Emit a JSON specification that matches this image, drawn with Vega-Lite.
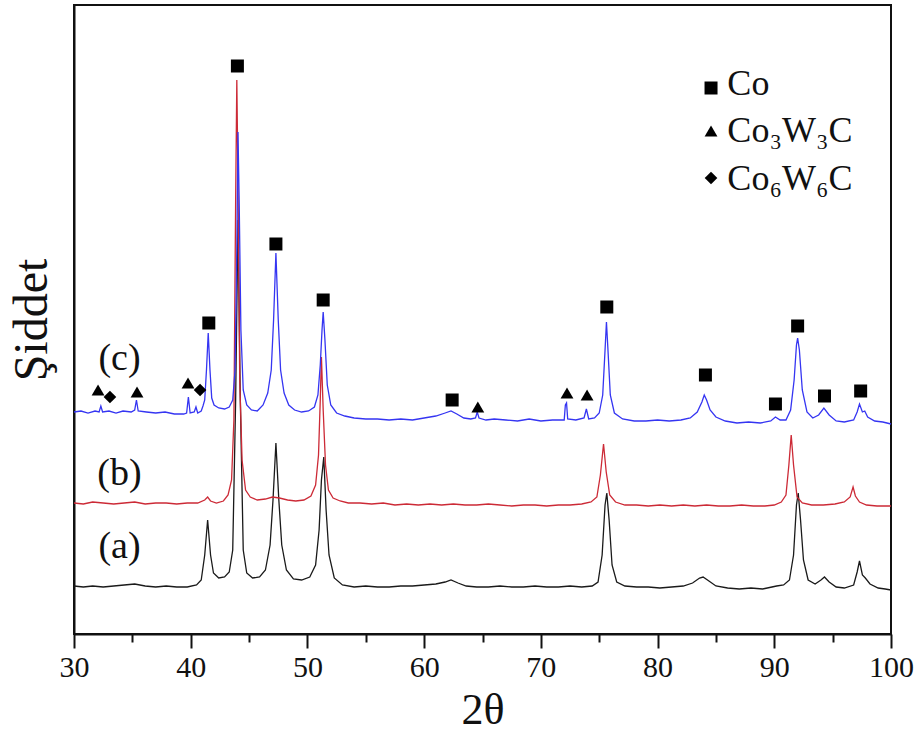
{
  "$schema": "https://vega.github.io/schema/vega-lite/v6.json",
  "width": 817,
  "height": 629,
  "autosize": {"type": "none"},
  "padding": {"left": 74, "top": 5, "right": 30, "bottom": 108},
  "background": "white",
  "config": {
    "font": "Liberation Serif",
    "view": {"stroke": "#111", "strokeWidth": 2},
    "axis": {"grid": false, "labelColor": "#111", "titleColor": "#111", "domainColor": "#111", "tickColor": "#111"}
  },
  "datasets": {
    "curves": [
      {"s":"a","x":30.0,"y":48},{"s":"a","x":30.8,"y":47},{"s":"a","x":31.6,"y":48},{"s":"a","x":32.5,"y":47},{"s":"a","x":33.4,"y":48},{"s":"a","x":34.3,"y":49},{"s":"a","x":35.2,"y":50},{"s":"a","x":36.1,"y":48},{"s":"a","x":37.0,"y":47},{"s":"a","x":37.9,"y":48},{"s":"a","x":38.8,"y":47},{"s":"a","x":39.7,"y":47},{"s":"a","x":40.5,"y":49},{"s":"a","x":40.9,"y":54},{"s":"a","x":41.2,"y":79},{"s":"a","x":41.45,"y":114},{"s":"a","x":41.7,"y":79},{"s":"a","x":41.95,"y":61},{"s":"a","x":42.4,"y":56},{"s":"a","x":42.9,"y":57},{"s":"a","x":43.3,"y":62},{"s":"a","x":43.6,"y":84},{"s":"a","x":43.85,"y":234},{"s":"a","x":44.05,"y":414},{"s":"a","x":44.25,"y":234},{"s":"a","x":44.5,"y":84},{"s":"a","x":44.8,"y":61},{"s":"a","x":45.3,"y":56},{"s":"a","x":45.9,"y":57},{"s":"a","x":46.4,"y":64},{"s":"a","x":46.8,"y":89},{"s":"a","x":47.05,"y":134},{"s":"a","x":47.3,"y":191},{"s":"a","x":47.55,"y":134},{"s":"a","x":47.8,"y":89},{"s":"a","x":48.2,"y":64},{"s":"a","x":48.8,"y":55},{"s":"a","x":49.5,"y":54},{"s":"a","x":50.2,"y":57},{"s":"a","x":50.7,"y":69},{"s":"a","x":51.0,"y":104},{"s":"a","x":51.2,"y":154},{"s":"a","x":51.4,"y":177},{"s":"a","x":51.6,"y":124},{"s":"a","x":51.85,"y":79},{"s":"a","x":52.3,"y":56},{"s":"a","x":53.0,"y":49},{"s":"a","x":54.0,"y":47},{"s":"a","x":55.0,"y":48},{"s":"a","x":56.0,"y":47},{"s":"a","x":57.0,"y":47},{"s":"a","x":58.0,"y":48},{"s":"a","x":59.0,"y":48},{"s":"a","x":60.0,"y":49},{"s":"a","x":61.0,"y":50},{"s":"a","x":61.8,"y":52},{"s":"a","x":62.3,"y":54},{"s":"a","x":62.9,"y":51},{"s":"a","x":63.6,"y":48},{"s":"a","x":64.5,"y":47},{"s":"a","x":65.5,"y":47},{"s":"a","x":66.5,"y":48},{"s":"a","x":67.5,"y":47},{"s":"a","x":68.5,"y":47},{"s":"a","x":69.5,"y":48},{"s":"a","x":70.5,"y":47},{"s":"a","x":71.5,"y":47},{"s":"a","x":72.5,"y":48},{"s":"a","x":73.5,"y":47},{"s":"a","x":74.4,"y":48},{"s":"a","x":74.9,"y":52},{"s":"a","x":75.25,"y":79},{"s":"a","x":75.5,"y":129},{"s":"a","x":75.65,"y":141},{"s":"a","x":75.85,"y":114},{"s":"a","x":76.1,"y":69},{"s":"a","x":76.5,"y":52},{"s":"a","x":77.2,"y":48},{"s":"a","x":78.2,"y":47},{"s":"a","x":79.2,"y":47},{"s":"a","x":80.2,"y":46},{"s":"a","x":81.2,"y":47},{"s":"a","x":82.2,"y":48},{"s":"a","x":83.0,"y":51},{"s":"a","x":83.6,"y":56},{"s":"a","x":83.9,"y":57},{"s":"a","x":84.4,"y":53},{"s":"a","x":85.0,"y":48},{"s":"a","x":86.0,"y":46},{"s":"a","x":87.0,"y":45},{"s":"a","x":88.0,"y":46},{"s":"a","x":89.0,"y":45},{"s":"a","x":89.8,"y":47},{"s":"a","x":90.2,"y":48},{"s":"a","x":90.8,"y":49},{"s":"a","x":91.3,"y":54},{"s":"a","x":91.65,"y":79},{"s":"a","x":91.9,"y":129},{"s":"a","x":92.05,"y":141},{"s":"a","x":92.25,"y":114},{"s":"a","x":92.5,"y":74},{"s":"a","x":92.9,"y":54},{"s":"a","x":93.5,"y":50},{"s":"a","x":94.0,"y":54},{"s":"a","x":94.3,"y":57},{"s":"a","x":94.7,"y":52},{"s":"a","x":95.3,"y":47},{"s":"a","x":96.0,"y":46},{"s":"a","x":96.8,"y":49},{"s":"a","x":97.1,"y":62},{"s":"a","x":97.3,"y":73},{"s":"a","x":97.55,"y":59},{"s":"a","x":97.8,"y":56},{"s":"a","x":98.2,"y":50},{"s":"a","x":98.9,"y":46},{"s":"a","x":99.5,"y":45},{"s":"a","x":100.0,"y":44},
      {"s":"b","x":30.0,"y":131},{"s":"b","x":30.8,"y":130},{"s":"b","x":31.6,"y":132},{"s":"b","x":32.5,"y":131},{"s":"b","x":33.4,"y":130},{"s":"b","x":34.3,"y":131},{"s":"b","x":35.2,"y":132},{"s":"b","x":36.1,"y":130},{"s":"b","x":37.0,"y":131},{"s":"b","x":37.9,"y":131},{"s":"b","x":38.8,"y":130},{"s":"b","x":39.7,"y":131},{"s":"b","x":40.6,"y":131},{"s":"b","x":41.2,"y":134},{"s":"b","x":41.45,"y":137},{"s":"b","x":41.7,"y":133},{"s":"b","x":42.2,"y":131},{"s":"b","x":42.8,"y":133},{"s":"b","x":43.2,"y":139},{"s":"b","x":43.5,"y":154},{"s":"b","x":43.7,"y":214},{"s":"b","x":43.85,"y":434},{"s":"b","x":43.95,"y":554},{"s":"b","x":44.05,"y":454},{"s":"b","x":44.2,"y":254},{"s":"b","x":44.4,"y":174},{"s":"b","x":44.7,"y":144},{"s":"b","x":45.1,"y":137},{"s":"b","x":45.7,"y":134},{"s":"b","x":46.4,"y":135},{"s":"b","x":47.0,"y":137},{"s":"b","x":47.6,"y":136},{"s":"b","x":48.3,"y":134},{"s":"b","x":49.0,"y":133},{"s":"b","x":49.7,"y":134},{"s":"b","x":50.3,"y":138},{"s":"b","x":50.7,"y":149},{"s":"b","x":50.95,"y":179},{"s":"b","x":51.1,"y":234},{"s":"b","x":51.2,"y":277},{"s":"b","x":51.35,"y":224},{"s":"b","x":51.55,"y":169},{"s":"b","x":51.8,"y":144},{"s":"b","x":52.2,"y":136},{"s":"b","x":52.8,"y":133},{"s":"b","x":53.5,"y":131},{"s":"b","x":54.5,"y":131},{"s":"b","x":55.5,"y":130},{"s":"b","x":56.5,"y":131},{"s":"b","x":57.5,"y":129},{"s":"b","x":58.5,"y":130},{"s":"b","x":59.5,"y":129},{"s":"b","x":60.5,"y":130},{"s":"b","x":61.5,"y":129},{"s":"b","x":62.5,"y":130},{"s":"b","x":63.5,"y":129},{"s":"b","x":64.5,"y":129},{"s":"b","x":65.5,"y":130},{"s":"b","x":66.5,"y":129},{"s":"b","x":67.5,"y":128},{"s":"b","x":68.5,"y":129},{"s":"b","x":69.5,"y":129},{"s":"b","x":70.5,"y":128},{"s":"b","x":71.5,"y":129},{"s":"b","x":72.5,"y":129},{"s":"b","x":73.5,"y":130},{"s":"b","x":74.3,"y":132},{"s":"b","x":74.8,"y":137},{"s":"b","x":75.1,"y":159},{"s":"b","x":75.37,"y":190},{"s":"b","x":75.6,"y":162},{"s":"b","x":75.9,"y":139},{"s":"b","x":76.4,"y":132},{"s":"b","x":77.2,"y":129},{"s":"b","x":78.2,"y":129},{"s":"b","x":79.2,"y":128},{"s":"b","x":80.2,"y":129},{"s":"b","x":81.2,"y":128},{"s":"b","x":82.2,"y":129},{"s":"b","x":83.2,"y":128},{"s":"b","x":84.2,"y":129},{"s":"b","x":85.2,"y":128},{"s":"b","x":86.2,"y":128},{"s":"b","x":87.2,"y":129},{"s":"b","x":88.2,"y":128},{"s":"b","x":89.2,"y":128},{"s":"b","x":90.0,"y":129},{"s":"b","x":90.6,"y":132},{"s":"b","x":91.0,"y":139},{"s":"b","x":91.25,"y":169},{"s":"b","x":91.45,"y":199},{"s":"b","x":91.65,"y":169},{"s":"b","x":91.95,"y":137},{"s":"b","x":92.4,"y":131},{"s":"b","x":93.2,"y":129},{"s":"b","x":94.2,"y":129},{"s":"b","x":95.2,"y":130},{"s":"b","x":96.0,"y":132},{"s":"b","x":96.5,"y":137},{"s":"b","x":96.75,"y":147},{"s":"b","x":96.95,"y":138},{"s":"b","x":97.3,"y":132},{"s":"b","x":97.9,"y":129},{"s":"b","x":98.8,"y":128},{"s":"b","x":100.0,"y":128},
      {"s":"c","x":30.0,"y":222},{"s":"c","x":30.6,"y":223},{"s":"c","x":31.2,"y":221},{"s":"c","x":31.8,"y":223},{"s":"c","x":32.15,"y":222},{"s":"c","x":32.3,"y":228},{"s":"c","x":32.45,"y":222},{"s":"c","x":33.0,"y":223},{"s":"c","x":33.6,"y":221},{"s":"c","x":34.2,"y":223},{"s":"c","x":34.9,"y":222},{"s":"c","x":35.2,"y":224},{"s":"c","x":35.35,"y":234},{"s":"c","x":35.5,"y":223},{"s":"c","x":36.2,"y":222},{"s":"c","x":37.0,"y":221},{"s":"c","x":37.8,"y":222},{"s":"c","x":38.6,"y":220},{"s":"c","x":39.4,"y":220},{"s":"c","x":39.65,"y":221},{"s":"c","x":39.8,"y":237},{"s":"c","x":39.95,"y":221},{"s":"c","x":40.3,"y":222},{"s":"c","x":40.45,"y":227},{"s":"c","x":40.6,"y":221},{"s":"c","x":40.9,"y":223},{"s":"c","x":41.05,"y":228},{"s":"c","x":41.2,"y":234},{"s":"c","x":41.35,"y":264},{"s":"c","x":41.5,"y":301},{"s":"c","x":41.65,"y":264},{"s":"c","x":41.8,"y":236},{"s":"c","x":42.0,"y":229},{"s":"c","x":42.4,"y":226},{"s":"c","x":42.9,"y":225},{"s":"c","x":43.3,"y":227},{"s":"c","x":43.6,"y":234},{"s":"c","x":43.8,"y":264},{"s":"c","x":43.95,"y":384},{"s":"c","x":44.05,"y":502},{"s":"c","x":44.15,"y":434},{"s":"c","x":44.3,"y":304},{"s":"c","x":44.5,"y":244},{"s":"c","x":44.8,"y":229},{"s":"c","x":45.2,"y":224},{"s":"c","x":45.7,"y":223},{"s":"c","x":46.2,"y":229},{"s":"c","x":46.6,"y":241},{"s":"c","x":46.9,"y":264},{"s":"c","x":47.1,"y":314},{"s":"c","x":47.3,"y":381},{"s":"c","x":47.5,"y":314},{"s":"c","x":47.7,"y":264},{"s":"c","x":48.0,"y":241},{"s":"c","x":48.4,"y":229},{"s":"c","x":48.9,"y":224},{"s":"c","x":49.5,"y":222},{"s":"c","x":50.1,"y":223},{"s":"c","x":50.6,"y":227},{"s":"c","x":50.9,"y":239},{"s":"c","x":51.1,"y":269},{"s":"c","x":51.25,"y":304},{"s":"c","x":51.35,"y":322},{"s":"c","x":51.5,"y":294},{"s":"c","x":51.7,"y":249},{"s":"c","x":52.0,"y":229},{"s":"c","x":52.5,"y":221},{"s":"c","x":53.2,"y":218},{"s":"c","x":54.0,"y":216},{"s":"c","x":55.0,"y":215},{"s":"c","x":56.0,"y":215},{"s":"c","x":57.0,"y":214},{"s":"c","x":58.0,"y":215},{"s":"c","x":59.0,"y":214},{"s":"c","x":60.0,"y":216},{"s":"c","x":61.0,"y":218},{"s":"c","x":61.8,"y":221},{"s":"c","x":62.3,"y":223},{"s":"c","x":62.8,"y":220},{"s":"c","x":63.4,"y":216},{"s":"c","x":64.0,"y":215},{"s":"c","x":64.4,"y":216},{"s":"c","x":64.55,"y":222},{"s":"c","x":64.7,"y":216},{"s":"c","x":65.3,"y":214},{"s":"c","x":66.0,"y":215},{"s":"c","x":67.0,"y":214},{"s":"c","x":68.0,"y":213},{"s":"c","x":69.0,"y":215},{"s":"c","x":70.0,"y":213},{"s":"c","x":71.0,"y":214},{"s":"c","x":72.0,"y":214},{"s":"c","x":72.1,"y":229},{"s":"c","x":72.2,"y":231},{"s":"c","x":72.3,"y":215},{"s":"c","x":73.0,"y":214},{"s":"c","x":73.7,"y":216},{"s":"c","x":73.9,"y":225},{"s":"c","x":74.1,"y":215},{"s":"c","x":74.6,"y":216},{"s":"c","x":75.0,"y":221},{"s":"c","x":75.3,"y":239},{"s":"c","x":75.5,"y":284},{"s":"c","x":75.62,"y":312},{"s":"c","x":75.75,"y":284},{"s":"c","x":75.95,"y":239},{"s":"c","x":76.3,"y":221},{"s":"c","x":77.0,"y":215},{"s":"c","x":78.0,"y":213},{"s":"c","x":79.0,"y":213},{"s":"c","x":80.0,"y":214},{"s":"c","x":81.0,"y":213},{"s":"c","x":82.0,"y":214},{"s":"c","x":82.8,"y":216},{"s":"c","x":83.4,"y":222},{"s":"c","x":83.8,"y":232},{"s":"c","x":84.0,"y":239},{"s":"c","x":84.2,"y":234},{"s":"c","x":84.5,"y":224},{"s":"c","x":85.0,"y":217},{"s":"c","x":85.8,"y":213},{"s":"c","x":86.8,"y":211},{"s":"c","x":87.8,"y":212},{"s":"c","x":88.8,"y":211},{"s":"c","x":89.7,"y":213},{"s":"c","x":90.1,"y":217},{"s":"c","x":90.5,"y":214},{"s":"c","x":91.0,"y":214},{"s":"c","x":91.4,"y":224},{"s":"c","x":91.7,"y":254},{"s":"c","x":91.9,"y":289},{"s":"c","x":92.0,"y":296},{"s":"c","x":92.15,"y":284},{"s":"c","x":92.4,"y":244},{"s":"c","x":92.8,"y":222},{"s":"c","x":93.3,"y":216},{"s":"c","x":93.8,"y":219},{"s":"c","x":94.25,"y":226},{"s":"c","x":94.7,"y":219},{"s":"c","x":95.3,"y":213},{"s":"c","x":96.0,"y":212},{"s":"c","x":96.8,"y":214},{"s":"c","x":97.1,"y":222},{"s":"c","x":97.3,"y":230},{"s":"c","x":97.55,"y":222},{"s":"c","x":97.75,"y":223},{"s":"c","x":98.0,"y":217},{"s":"c","x":98.6,"y":213},{"s":"c","x":99.3,"y":212},{"s":"c","x":100.0,"y":210}
    ],
    "peaks": [
      {"phase":"Co","x":41.55,"y":311},{"phase":"Co","x":44.0,"y":568},{"phase":"Co","x":47.3,"y":390},{"phase":"Co","x":51.35,"y":334},{"phase":"Co","x":62.4,"y":234},{"phase":"Co","x":75.65,"y":327},{"phase":"Co","x":84.1,"y":259},{"phase":"Co","x":90.1,"y":230},{"phase":"Co","x":92.0,"y":308},{"phase":"Co","x":94.3,"y":238},{"phase":"Co","x":97.4,"y":243},
      {"phase":"Co3W3C","x":32.06,"y":244},{"phase":"Co3W3C","x":35.4,"y":242},{"phase":"Co3W3C","x":39.77,"y":251},{"phase":"Co3W3C","x":64.6,"y":227},{"phase":"Co3W3C","x":72.24,"y":241},{"phase":"Co3W3C","x":73.96,"y":239},
      {"phase":"Co6W6C","x":33.08,"y":237},{"phase":"Co6W6C","x":40.8,"y":244}
    ],
    "legendSymbols": [
      {"phase":"Co","x":84.58,"y":546},{"phase":"Co3W3C","x":84.58,"y":503},{"phase":"Co6W6C","x":84.58,"y":456}
    ],
    "legendText": [
      {"x":85.98,"y":539,"t":"Co"},{"x":85.98,"y":492,"t":"Co₃W₃C"},{"x":85.98,"y":444,"t":"Co₆W₆C"}
    ],
    "curveLabels": [
      {"x":33.9,"y":275,"t":"(c)"},{"x":33.9,"y":160,"t":"(b)"},{"x":33.9,"y":87,"t":"(a)"}
    ]
  },
  "layer": [
    {
      "data": {"name": "curves"},
      "mark": {"type": "line", "strokeWidth": 1.3, "interpolate": "linear"},
      "encoding": {
        "x": {"field": "x", "type": "quantitative", "scale": {"domain": [30, 100], "nice": false, "zero": false},
          "axis": {"orient": "bottom", "values": [30,40,50,60,70,80,90,100], "title": "2θ", "titleFontSize": 44, "titleFontWeight": "normal", "titlePadding": 6, "labelFontSize": 30, "labelPadding": 4, "tickSize": 14, "tickWidth": 2, "domainWidth": 2, "labelFlush": false}},
        "y": {"field": "y", "type": "quantitative", "scale": {"domain": [0, 629], "nice": false},
          "axis": {"title": "Şiddet", "labels": false, "ticks": false, "tickSize": 0, "titleFontSize": 48, "titleFontWeight": "normal", "titlePadding": 18, "domainWidth": 2}},
        "color": {"field": "s", "type": "nominal", "scale": {"domain": ["a","b","c"], "range": ["#1a1a1a", "#cc2a36", "#3535f2"]}, "legend": null}
      }
    },
    {
      "data": {"name": "peaks"},
      "mark": {"type": "point", "filled": true, "opacity": 1, "color": "#000"},
      "encoding": {
        "x": {"field": "x", "type": "quantitative", "axis": {"orient": "bottom", "values": [35,45,55,65,75,85,95], "labels": false, "domain": false, "tickSize": 8, "tickWidth": 2, "title": null}},
        "y": {"field": "y", "type": "quantitative"},
        "shape": {"field": "phase", "type": "nominal", "scale": {"domain": ["Co","Co3W3C","Co6W6C"], "range": ["square","triangle-up","diamond"]}, "legend": null},
        "size": {"field": "phase", "type": "ordinal", "scale": {"domain": ["Co","Co3W3C","Co6W6C"], "range": [169, 160, 130]}, "legend": null}
      }
    },
    {
      "data": {"name": "legendSymbols"},
      "mark": {"type": "point", "filled": true, "opacity": 1, "color": "#000"},
      "encoding": {
        "x": {"field": "x", "type": "quantitative", "axis": null},
        "y": {"field": "y", "type": "quantitative"},
        "shape": {"field": "phase", "type": "nominal", "legend": null},
        "size": {"field": "phase", "type": "ordinal", "legend": null}
      }
    },
    {
      "data": {"name": "legendText"},
      "mark": {"type": "text", "align": "left", "baseline": "alphabetic", "fontSize": 36, "color": "#111"},
      "encoding": {
        "x": {"field": "x", "type": "quantitative", "axis": null},
        "y": {"field": "y", "type": "quantitative"},
        "text": {"field": "t"}
      }
    },
    {
      "data": {"name": "curveLabels"},
      "mark": {"type": "text", "align": "center", "baseline": "middle", "fontSize": 38, "color": "#111"},
      "encoding": {
        "x": {"field": "x", "type": "quantitative", "axis": null},
        "y": {"field": "y", "type": "quantitative"},
        "text": {"field": "t"}
      }
    }
  ],
  "resolve": {"axis": {"x": "independent"}}
}
